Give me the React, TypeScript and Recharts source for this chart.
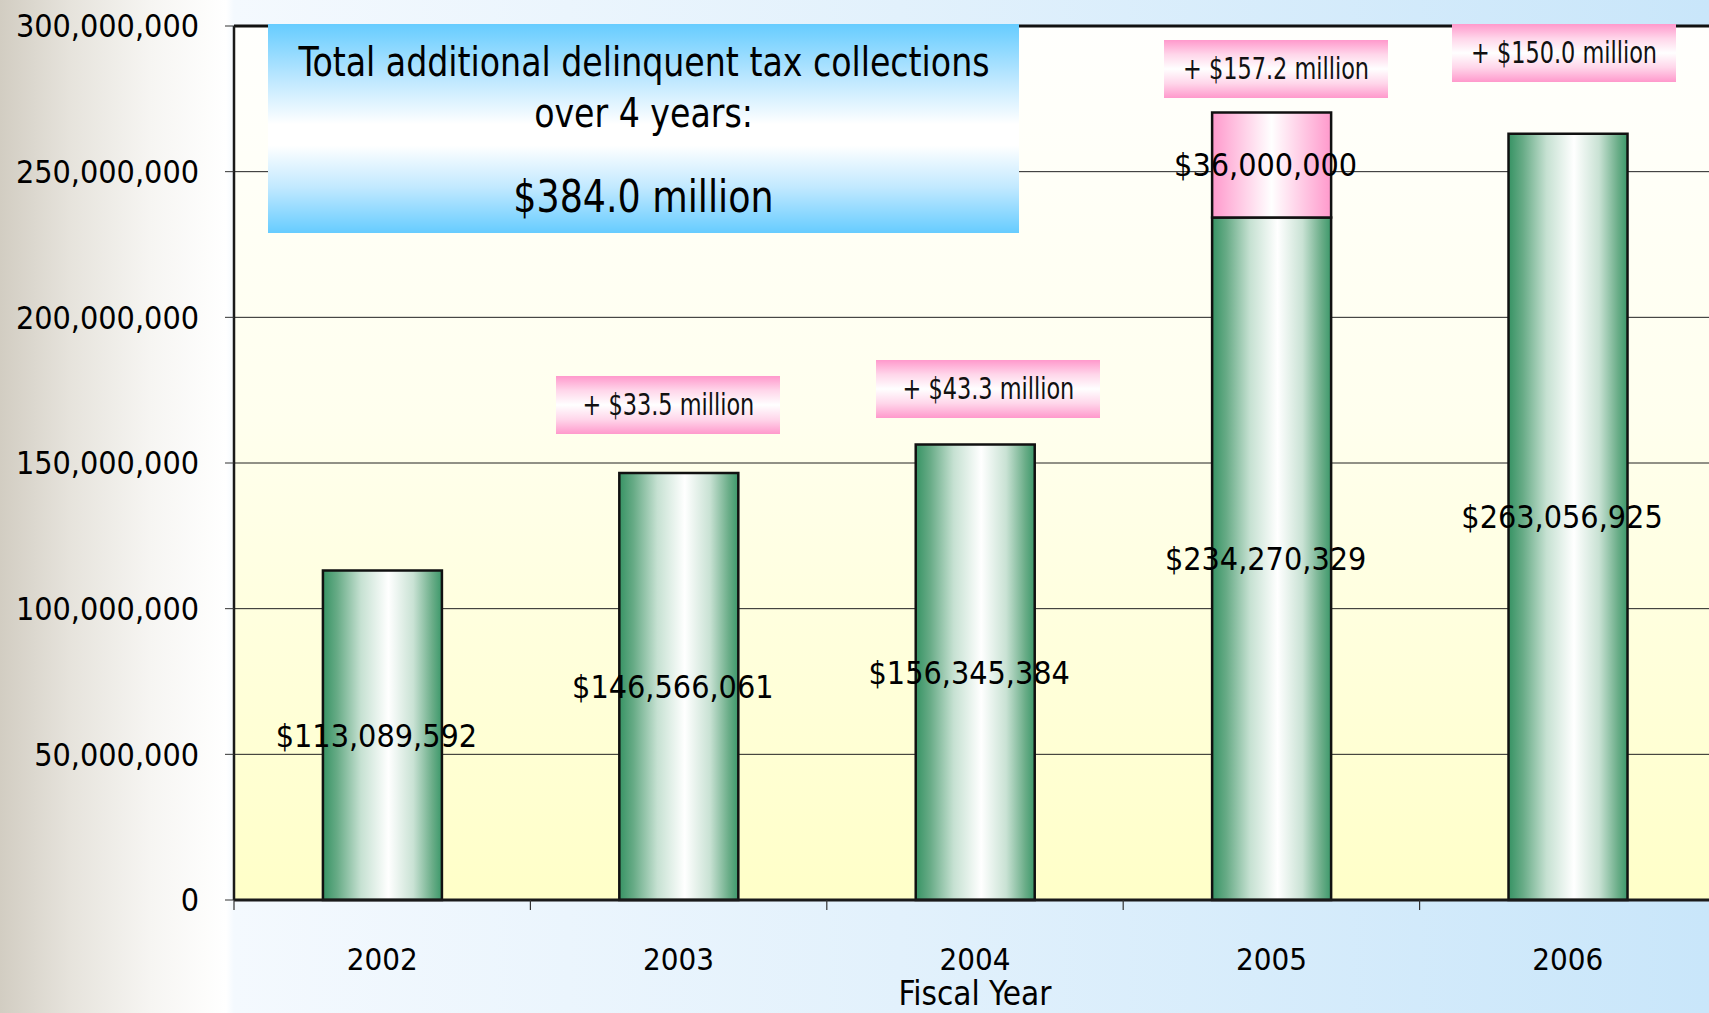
import { BarChart, Bar, XAxis, YAxis, CartesianGrid, LabelList, ReferenceLine } from 'recharts';

// data
const years = ['2002', '2003', '2004', '2005', '2006'];
const baseCollections = [113089592, 146566061, 156345384, 234270329, 263056925];
const extraCollections = [null, null, null, 36000000, null];
const yTicks = [0, 50000000, 100000000, 150000000, 200000000, 250000000, 300000000];
const increaseLabels = ['+ $33.5 million', '+ $43.3 million', '+ $157.2 million', '+ $150.0 million'];
const titleLines = ['Total additional delinquent tax collections', 'over 4 years:', '$384.0 million'];
const axisTitle = 'Fiscal Year';

// layout
const W = 1716;
const H = 1013;
const Y_AXIS_W = 234;
const X_AXIS_H = 113;
const TOP = 26;
const BAND = (W - Y_AXIS_W) / years.length;
const boxSpots = [
  { left: 556, top: 376 },
  { left: 876, top: 360 },
  { left: 1164, top: 40 },
  { left: 1452, top: 24 },
];
const titleSpots = [
  { top: 62, size: 41, squeeze: 0.9 },
  { top: 113, size: 41, squeeze: 0.9 },
  { top: 197, size: 44, squeeze: 0.92 },
];

// no Comic Sans / Arial Narrow here: DejaVu condensed, squeezed where needed
const comic = '"DejaVu Sans Condensed", "DejaVu Sans", sans-serif';
const narrow = '"Liberation Sans Narrow", "DejaVu Sans Condensed", sans-serif';

const data = years.map((y, i) => ({
  year: y,
  base: baseCollections[i],
  extra: extraCollections[i],
}));

const money = (v: unknown) => (v == null || v === 0 ? '' : '$' + Number(v).toLocaleString('en-US'));

function YearTick(props: any) {
  const { x, y, payload } = props;
  const edge = x - BAND / 2;
  return (
    <g>
      <line x1={edge} y1={y} x2={edge} y2={y + 10} stroke="#333" strokeWidth={1.2} />
      <text x={x} y={y + 61} textAnchor="middle" dominantBaseline="middle" fontSize={31} fontFamily={comic} fill="#000">
        {payload.value}
      </text>
    </g>
  );
}

function Squeezed({ text, k }: { text: string; k: number }) {
  return (
    <span style={{ display: 'inline-block', flex: 'none', transform: `scaleX(${k})`, transformOrigin: 'center' }}>{text}</span>
  );
}

export default function App() {
  return (
    <div
      style={{
        position: 'fixed',
        left: 0,
        top: 0,
        width: 1709,
        height: 1013,
        overflow: 'hidden',
        background:
          'linear-gradient(to right, #d2cdc2 0px, #e6e3dc 70px, #f6f5f2 150px, #ffffff 226px, #f4f9fe 234px, #e2f1fc 900px, #c9e6fa 1709px)',
      }}
    >
      <BarChart
        width={W}
        height={H}
        data={data}
        margin={{ top: TOP, right: 0, bottom: 0, left: 0 }}
        barCategoryGap="30%"
      >
        <defs>
          <linearGradient id="plotBg" x1="0" y1="0" x2="0" y2="1">
            <stop offset="0%" stopColor="#fffffd" />
            <stop offset="45%" stopColor="#ffffee" />
            <stop offset="100%" stopColor="#ffffc8" />
          </linearGradient>
          <linearGradient id="greenBar" x1="0" y1="0" x2="1" y2="0">
            <stop offset="0%" stopColor="#379364" />
            <stop offset="12%" stopColor="#67ab86" />
            <stop offset="32%" stopColor="#c6e1d2" />
            <stop offset="55%" stopColor="#ffffff" />
            <stop offset="76%" stopColor="#c9e2d4" />
            <stop offset="92%" stopColor="#6aad88" />
            <stop offset="100%" stopColor="#3c986a" />
          </linearGradient>
          <linearGradient id="pinkBar" x1="0" y1="0" x2="1" y2="0">
            <stop offset="0%" stopColor="#ff99cc" />
            <stop offset="50%" stopColor="#ffffff" />
            <stop offset="100%" stopColor="#ff99cc" />
          </linearGradient>
        </defs>
        <CartesianGrid vertical={false} stroke="#222" strokeWidth={1} fill="url(#plotBg)" fillOpacity={1} />
        <XAxis
          dataKey="year"
          height={X_AXIS_H}
          axisLine={{ stroke: '#1a1a1a', strokeWidth: 3 }}
          tickLine={false}
          tickSize={0}
          tickMargin={0}
          tick={<YearTick />}
          interval={0}
          label={{ value: axisTitle, position: 'insideBottom', offset: 8, fontSize: 33, fontFamily: comic, fill: '#000' }}
        />
        <YAxis
          width={Y_AXIS_W}
          domain={[0, 300000000]}
          ticks={yTicks}
          interval={0}
          axisLine={{ stroke: '#1a1a1a', strokeWidth: 2.5 }}
          tickLine={{ stroke: '#333' }}
          tickSize={9}
          tickMargin={26}
          tickFormatter={(v: number) => v.toLocaleString('en-US')}
          tick={{ fill: '#000', fontSize: 32, fontFamily: comic }}
        />
        <ReferenceLine y={300000000} stroke="#111" strokeWidth={3} />
        <Bar dataKey="base" stackId="a" fill="url(#greenBar)" stroke="#111" strokeWidth={2.5} isAnimationActive={false}>
          <LabelList dataKey="base" position="center" formatter={money} fontSize={32} fontFamily={comic} fill="#000" dx={-6} />
        </Bar>
        <Bar dataKey="extra" stackId="a" fill="url(#pinkBar)" stroke="#111" strokeWidth={2.5} isAnimationActive={false}>
          <LabelList dataKey="extra" position="center" formatter={money} fontSize={32} fontFamily={comic} fill="#000" dx={-6} />
        </Bar>
      </BarChart>

      <div
        style={{
          position: 'absolute',
          left: 268,
          top: 24,
          width: 751,
          height: 209,
          background: 'linear-gradient(to bottom, #66ccff 0%, #c2e9ff 28%, #ffffff 48%, #ffffff 58%, #c2e9ff 78%, #66ccff 100%)',
        }}
      >
        {titleLines.map((t, i) => (
          <div
            key={t}
            style={{
              position: 'absolute',
              left: 0,
              width: '100%',
              top: titleSpots[i].top - 24 - titleSpots[i].size / 2,
              height: titleSpots[i].size,
              lineHeight: `${titleSpots[i].size}px`,
              fontSize: titleSpots[i].size,
              fontFamily: narrow,
              display: 'flex',
              justifyContent: 'center',
              color: '#000',
              whiteSpace: 'nowrap',
            }}
          >
            <Squeezed text={t} k={titleSpots[i].squeeze} />
          </div>
        ))}
      </div>

      {increaseLabels.map((t, i) => (
        <div
          key={t}
          style={{
            position: 'absolute',
            left: boxSpots[i].left,
            top: boxSpots[i].top,
            width: 224,
            height: 58,
            lineHeight: '58px',
            background: 'linear-gradient(to bottom, #ff99cc 0%, #ffd6ea 25%, #ffffff 50%, #ffd6ea 75%, #ff99cc 100%)',
            fontSize: 30,
            fontFamily: narrow,
            display: 'flex',
            justifyContent: 'center',
            color: '#111',
            whiteSpace: 'nowrap',
          }}
        >
          <Squeezed text={t} k={0.83} />
        </div>
      ))}
    </div>
  );
}
